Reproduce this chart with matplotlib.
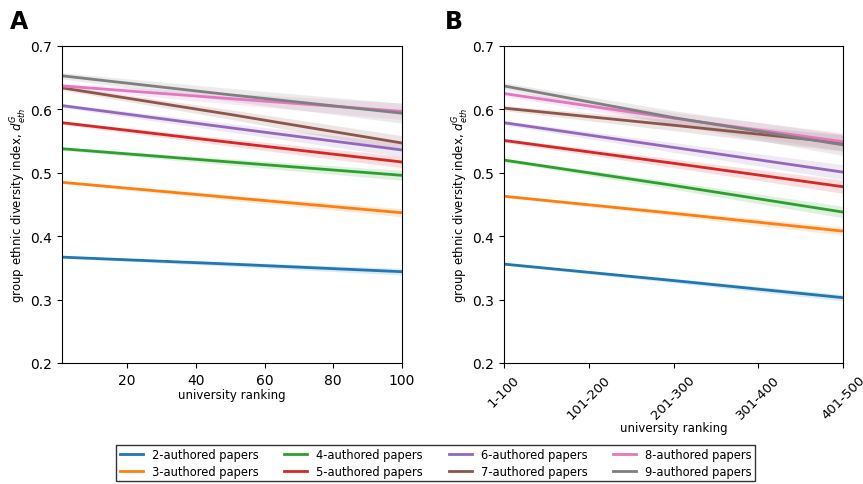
import numpy as np
import matplotlib.pyplot as plt

# panel A: university ranking 1..100
rank_a = [1, 50, 100]
# panel B: ranking buckets
rank_b_labels = ["1-100", "101-200", "201-300", "301-400", "401-500"]
rank_b = [0, 2, 4]

series_names = ["2-authored papers", "3-authored papers", "4-authored papers",
                "5-authored papers", "6-authored papers", "7-authored papers",
                "8-authored papers", "9-authored papers"]

vals_a = [
    [0.367, 0.356, 0.344],
    [0.485, 0.461, 0.437],
    [0.538, 0.517, 0.496],
    [0.579, 0.548, 0.517],
    [0.606, 0.571, 0.536],
    [0.634, 0.592, 0.547],
    [0.637, 0.617, 0.597],
    [0.653, 0.623, 0.594],
]
err_a = [0.004, 0.005, 0.006, 0.007, 0.008, 0.009, 0.010, 0.012]

vals_b = [
    [0.356, 0.330, 0.303],
    [0.463, 0.436, 0.408],
    [0.520, 0.480, 0.438],
    [0.551, 0.515, 0.478],
    [0.579, 0.540, 0.501],
    [0.602, 0.575, 0.547],
    [0.625, 0.586, 0.549],
    [0.637, 0.587, 0.544],
]
err_b = [0.004, 0.005, 0.007, 0.008, 0.009, 0.010, 0.011, 0.013]

colors = plt.rcParams["axes.prop_cycle"].by_key()["color"][:8]

fig = plt.figure(figsize=(8.63, 4.85), dpi=100)
ax_a = fig.add_axes([0.0718, 0.2495, 0.394, 0.6536])
ax_b = fig.add_axes([0.584, 0.2495, 0.393, 0.6536])


def draw(ax, x, vals, errs):
    xs = np.linspace(x[0], x[-1], 100)
    for i, v in enumerate(vals):
        ys = np.interp(xs, x, v)
        e = np.linspace(errs[i] * 0.4, errs[i] * 1.3, len(xs))
        ax.fill_between(xs, ys - e, ys + e, color=colors[i], alpha=0.15, lw=0)
        ax.plot(xs, ys, color=colors[i], lw=2, label=series_names[i])
    ax.set_ylim(0.2, 0.7)
    ax.set_yticks([0.2, 0.3, 0.4, 0.5, 0.6, 0.7])
    ax.set_ylabel("group ethnic diversity index, $d^G_{eth}$", fontsize=8.5,
                  labelpad=1)


draw(ax_a, rank_a, vals_a, err_a)
ax_a.set_xlim(1, 100)
ax_a.set_xticks([20, 40, 60, 80, 100])
ax_a.set_xlabel("university ranking", fontsize=8.5, labelpad=1)

draw(ax_b, rank_b, vals_b, err_b)
ax_b.set_xlim(0, 4)
ax_b.set_xticks(range(5))
ax_b.set_xticklabels(rank_b_labels, rotation=45, fontsize=9.5)
ax_b.set_xlabel("university ranking", fontsize=8.5, labelpad=0)

fig.text(0.012, 0.955, "A", fontsize=17, fontweight="bold", va="center")
fig.text(0.516, 0.955, "B", fontsize=17, fontweight="bold", va="center")

handles, labels = ax_a.get_legend_handles_labels()
leg = fig.legend(handles, labels, loc="lower center", ncol=4, fontsize=8.3,
                 bbox_to_anchor=(0.505, -0.006), fancybox=False,
                 edgecolor="black", columnspacing=2.2, handlelength=2.0,
                 borderpad=0.3, labelspacing=0.3)

fig.savefig("out.png", dpi=100)
